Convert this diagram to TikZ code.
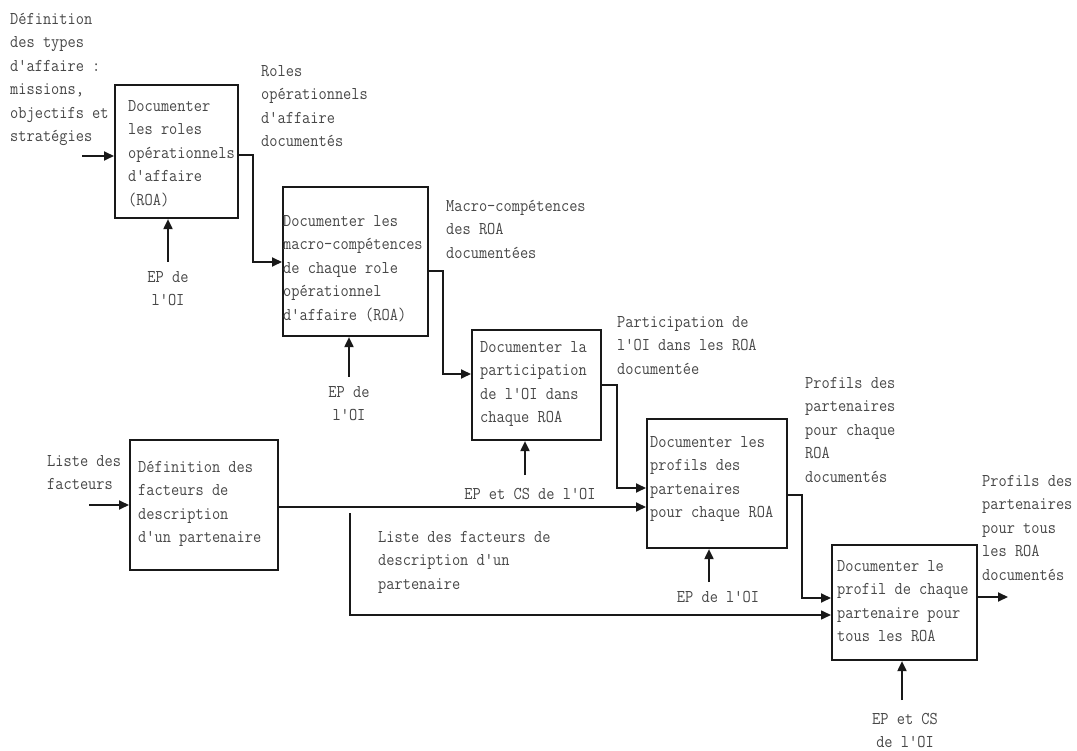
\documentclass[tikz,border=0pt]{standalone}
\usepackage{fontspec}
\newfontfamily\cour[FakeStretch=0.885,Ligatures=TeXOff]{Latin Modern Mono}
\usetikzlibrary{arrows.meta}
\begin{document}
\begin{tikzpicture}[x=1pt,y=-1pt,
  box/.style={draw=black!90, line width=2.1pt, inner sep=0pt, anchor=north west},
  lbl/.style={font=\cour\fontsize{18}{23.4}\selectfont, text=black!72, inner sep=0pt, anchor=north west, align=left},
  clbl/.style={lbl, anchor=north, align=center},
  arr/.style={draw=black!90, line width=1.9pt, -{Triangle[length=10pt,width=9pt]}},
  thin/.style={line width=1.5pt}]
\useasboundingbox (0,0) rectangle (1077,751);

% boxes
\node[box, minimum width=123pt, minimum height=133pt] (b1) at (114,84) {};
\node[box, minimum width=145pt, minimum height=149pt] (b2) at (282,186) {};
\node[box, minimum width=129pt, minimum height=110pt] (b3) at (471,329) {};
\node[box, minimum width=148pt, minimum height=130pt] (b4) at (129,439) {};
\node[box, minimum width=140pt, minimum height=129pt] (b5) at (646,418) {};
\node[box, minimum width=145pt, minimum height=115pt] (b6) at (831,544) {};

% box texts
\node[lbl] (t1) at (128,95) {\strut Documenter\\les roles\\opérationnels\\d'affaire\\(ROA)};
\node[lbl] (t2) at (283,210) {\strut Documenter les\\macro-compétences\\de chaque role\\opérationnel\\d'affaire (ROA)};
\node[lbl] (t3) at (480,336) {\strut Documenter la\\participation\\de l'OI dans\\chaque ROA};
\node[lbl] (t4) at (138,456) {\strut Définition des\\facteurs de\\description\\d'un partenaire};
\node[lbl] (t5) at (650,431) {\strut Documenter les\\profils des\\partenaires\\pour chaque ROA};
\node[lbl] (t6) at (837,555) {\strut Documenter le\\profil de chaque\\partenaire pour\\tous les ROA};

% labels
\node[lbl] (l0) at (10,8) {\strut Définition\\des types\\d'affaire :\\missions,\\objectifs et\\stratégies};
\node[lbl] (l1) at (261,60) {\strut Roles\\opérationnels\\d'affaire\\documentés};
\node[lbl] (l2) at (446,195) {\strut Macro-compétences\\des ROA\\documentées};
\node[lbl] (l3) at (617,311) {\strut Participation de\\l'OI dans les ROA\\documentée};
\node[lbl] (l5) at (805,372) {\strut Profils des\\partenaires\\pour chaque\\ROA\\documentés};
\node[lbl] (l6) at (982,470) {\strut Profils des\\partenaires\\pour tous\\les ROA\\documentés};
\node[lbl] (l4in) at (47,450) {\strut Liste des\\facteurs};
\node[lbl] (l4) at (378,526) {\strut Liste des facteurs de\\description d'un\\partenaire};
\node[clbl] (m1) at (168,266) {\strut EP de\\l'OI};
\node[clbl] (m2) at (349,381) {\strut EP de\\l'OI};
\node[clbl] (m3) at (530,483) {\strut EP et CS de l'OI};
\node[clbl] (m5) at (718,586) {\strut EP de l'OI};
\node[clbl] (m6) at (905,708) {\strut EP et CS\\de l'OI};

% free ends
\coordinate (i1) at (82,156);
\coordinate (i4) at (89,505);
\coordinate (c1) at (168,262);
\coordinate (c2) at (349,377);
\coordinate (c3) at (525,475);
\coordinate (c5) at (709,582);
\coordinate (c6) at (902,700);
\coordinate (o6) at (1008,597);
\coordinate (br) at (350,513);

% connectors
\draw[arr] (i1) -- (i1 -| b1.west);
\draw[arr] (i4) -- (i4 -| b4.west);
\draw[arr] (b1.east |- 0,155) -| (253,262) -- (b2.west |- 0,262);
\draw[arr] (b2.east |- 0,271) -| (443,374) -- (b3.west |- 0,374);
\draw[arr] (b3.east |- 0,385) -| (617,488) -- (b5.west |- 0,488);
\draw[arr] (b4.east |- 0,507) -- (b5.west |- 0,507);
\draw[arr, thin] (br) -- (350,615) -- (b6.west |- 0,615);
\draw[arr] (b5.east |- 0,495) -| (802,598) -- (b6.west |- 0,598);
\draw[arr] (b6.east |- o6) -- (o6);
\draw[arr] (c1) -- (c1 |- b1.south);
\draw[arr] (c2) -- (c2 |- b2.south);
\draw[arr] (c3) -- (c3 |- b3.south);
\draw[arr] (c5) -- (c5 |- b5.south);
\draw[arr] (c6) -- (c6 |- b6.south);
\end{tikzpicture}
\end{document}
